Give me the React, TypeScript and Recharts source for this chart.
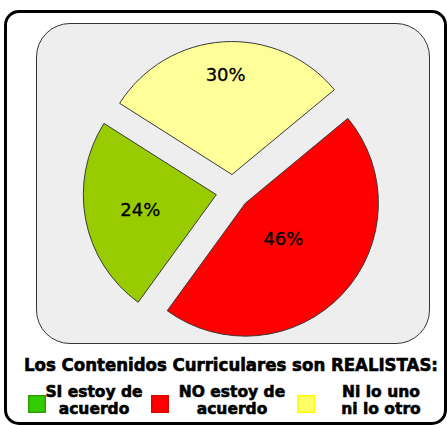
import React from "react";
import { PieChart, Pie, Cell, Sector, Legend, Tooltip } from "recharts";

// Order: legend order (SI, NO, Ni lo uno)
const categories = ["SI estoy de acuerdo", "NO estoy de acuerdo", "Ni lo uno ni lo otro"];
const legendLines = [
  ["SI estoy de", "acuerdo"],
  ["NO estoy de", "acuerdo"],
  ["Ni lo uno", "ni lo otro"],
];
const values = [24, 46, 30];

const sliceColors = ["#99CC00", "#FF0000", "#FFFF99"];
const legendColors = ["#33CC00", "#FF0000", "#FFFF66"];
const legendBorders = ["#2E9E00", "#E00000", "#FFFF00"];

const data = categories.map((name, i) => ({ name, value: values[i] }));

const RADIAN = Math.PI / 180;
const EXPLODE = 17;
// label distance from the pie centre, as a share of the radius
const labelRadius = [0.71, 0.52, 0.88];

const renderSlice = (props: any) => {
  const { cx, cy, midAngle, innerRadius, outerRadius, startAngle, endAngle, fill } = props;
  const dx = EXPLODE * Math.cos(-midAngle * RADIAN);
  const dy = EXPLODE * Math.sin(-midAngle * RADIAN);
  return (
    <Sector
      cx={cx + dx}
      cy={cy + dy}
      innerRadius={innerRadius}
      outerRadius={outerRadius}
      startAngle={startAngle}
      endAngle={endAngle}
      fill={fill}
      stroke="#3a3a3a"
      strokeWidth={1}
    />
  );
};

const renderLabel = (props: any) => {
  const { cx, cy, midAngle, outerRadius, percent, index } = props;
  const r = outerRadius * labelRadius[index];
  const x = cx + r * Math.cos(-midAngle * RADIAN);
  const y = cy + r * Math.sin(-midAngle * RADIAN);
  return (
    <text
      x={x}
      y={y}
      textAnchor="middle"
      dominantBaseline="central"
      fill="#000"
      stroke="#000"
      strokeWidth={0.3}
      fontFamily="DejaVu Sans"
      fontSize={18}
    >
      {`${Math.round(percent * 100)}%`}
    </text>
  );
};

const itemSquareX = [28, 151, 297];
const itemTextX = [94, 232, 381];

const renderLegend = () => (
  <svg width={447} height={73} style={{ display: "block" }}>
    <text
      x={231}
      y={19}
      textAnchor="middle"
      fontFamily="DejaVu Sans"
      fontWeight="bold"
      fontSize={17}
      textLength={414}
      lengthAdjust="spacingAndGlyphs"
      fill="#000"
      stroke="#000"
      strokeWidth={0.6}
    >
      Los Contenidos Curriculares son REALISTAS:
    </text>
    {categories.map((c, i) => (
      <g key={c}>
        <rect
          x={itemSquareX[i] + 0.75}
          y={43.75}
          width={16.5}
          height={16.5}
          fill={legendColors[i]}
          stroke={legendBorders[i]}
          strokeWidth={1.5}
        />
        {legendLines[i].map((line, j) => (
          <text
            key={line}
            x={itemTextX[i]}
            y={45 + j * 17}
            textAnchor="middle"
            fontFamily="DejaVu Sans"
            fontWeight="bold"
            fontSize={15.5}
            fill="#000"
            stroke="#000"
            strokeWidth={0.6}
          >
            {line}
          </text>
        ))}
      </g>
    ))}
  </svg>
);

export default function App() {
  return (
    <div
      style={{
        position: "absolute",
        left: 0,
        top: 0,
        width: 447,
        height: 425,
        background: "#fff",
        overflow: "hidden",
      }}
    >
      <div
        style={{
          position: "absolute",
          left: 4,
          top: 10,
          width: 443,
          height: 415,
          boxSizing: "border-box",
          border: "3px solid #000",
          borderRadius: 15,
        }}
      />
      <div
        style={{
          position: "absolute",
          left: 36,
          top: 23,
          width: 394,
          height: 321,
          boxSizing: "border-box",
          border: "1.5px solid #333",
          borderRadius: 34,
          background: "#EEEEEE",
        }}
      />
      <div style={{ position: "absolute", left: 0, top: 0 }}>
        <PieChart width={447} height={425} margin={{ top: 0, right: 0, bottom: 0, left: 0 }}>
          <Pie
            data={data}
            dataKey="value"
            nameKey="name"
            cx={233}
            cy={191.5}
            outerRadius={133}
            startAngle={147.6}
            endAngle={507.6}
            stroke="#3a3a3a"
            isAnimationActive={false}
            labelLine={false}
            label={renderLabel}
            shape={renderSlice}
            activeShape={renderSlice}
            inactiveShape={renderSlice}
          >
            {data.map((d, i) => (
              <Cell key={d.name} fill={sliceColors[i]} />
            ))}
          </Pie>
          <Tooltip defaultIndex={0} content={() => null} cursor={false} />
          <Legend
            content={renderLegend}
            wrapperStyle={{ position: "absolute", top: 352, left: 0, width: 447, height: 73 }}
          />
        </PieChart>
      </div>
    </div>
  );
}
